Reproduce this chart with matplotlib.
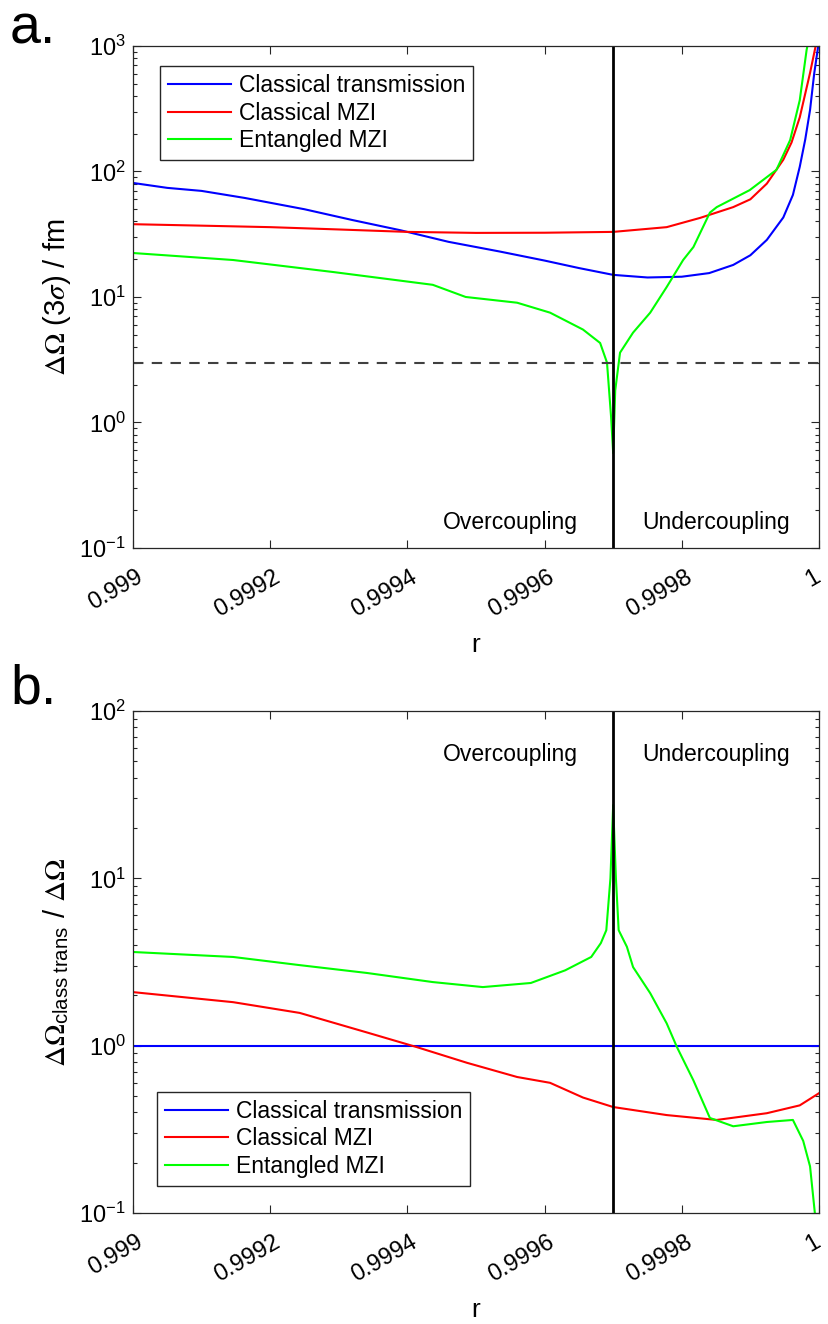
import math

import matplotlib
matplotlib.use("Agg")
import matplotlib.pyplot as plt
from matplotlib.ticker import FixedLocator, FuncFormatter, LogLocator, NullFormatter
from matplotlib.transforms import ScaledTranslation

plt.rcParams["font.family"] = ["Liberation Sans", "DejaVu Sans"]
plt.rcParams["mathtext.fontset"] = "stix"

# r position of the critical coupling line
R_CRIT = 0.9997
DASHED_LEVEL = 3.0

# --- panel a: Delta Omega (3 sigma) / fm ---
a_blue_r = [0.99900, 0.99905, 0.99910, 0.999163, 0.99925, 0.99932, 0.99939, 0.99946,
            0.999535, 0.99960, 0.99965, 0.99970, 0.99975, 0.99980, 0.99984, 0.999875,
            0.99990, 0.999924, 0.999948, 0.999962, 0.999972, 0.99998, 0.999987,
            0.999993, 1.0]
a_blue = [81, 74, 70, 61.5, 50, 41, 34, 27.5, 23, 19.5, 17, 15, 14.3, 14.5, 15.5, 18,
          21.5, 28.5, 43, 65, 109, 180, 309, 600, 1100]

a_red_r = [0.99900, 0.99910, 0.99920, 0.99930, 0.99940, 0.99950, 0.99960, 0.99970,
           0.999778, 0.999827, 0.999875, 0.99990, 0.999924, 0.999948, 0.99996,
           0.999972, 0.999987, 0.999996]
a_red = [38, 37, 36, 34.5, 33, 32.4, 32.5, 33, 36, 42.7, 52, 60, 80, 124, 170, 270,
         610, 1050]

a_green_r = [0.99900, 0.999146, 0.999292, 0.999437, 0.999485, 0.99956, 0.999608,
             0.999656, 0.999681, 0.999691, 0.999697, 0.99970, 0.999703, 0.99971,
             0.999729, 0.999754, 0.999778, 0.999802, 0.999817, 0.999841, 0.999851,
             0.999899, 0.999938, 0.999958, 0.999972, 0.999982, 0.999986]
a_green = [22.4, 19.7, 15.8, 12.5, 10.0, 9.0, 7.5, 5.5, 4.3, 3.0, 1.1, 0.57, 1.8, 3.6,
           5.2, 7.5, 12, 19.7, 25, 47, 52, 71, 103, 178, 370, 930, 1200]

# --- panel b: Delta Omega_class trans / Delta Omega ---
b_blue_r = [0.99900, 1.0]
b_blue = [1.0, 1.0]

b_red_r = [0.99900, 0.999146, 0.999243, 0.999341, 0.999414, 0.999487, 0.99956,
           0.999608, 0.999656, 0.99970, 0.999778, 0.999851, 0.999924, 0.999972, 1.0]
b_red = [2.09, 1.82, 1.57, 1.2, 0.98, 0.79, 0.65, 0.6, 0.49, 0.43, 0.385, 0.36,
         0.395, 0.44, 0.52]

b_green_r = [0.99900, 0.999146, 0.999243, 0.999341, 0.999437, 0.99951, 0.99958,
             0.99963, 0.999668, 0.999682, 0.999690, 0.999696, 0.99970, 0.999704,
             0.999708, 0.99972, 0.999729, 0.999754, 0.999778, 0.999793, 0.999817,
             0.999841, 0.999875, 0.999924, 0.999962, 0.999977, 0.999987, 0.999994]
b_green = [3.63, 3.39, 3.03, 2.72, 2.4, 2.24, 2.37, 2.82, 3.39, 4.1, 4.9, 10, 27.4,
           10, 4.9, 3.9, 2.95, 2.06, 1.36, 0.98, 0.62, 0.37, 0.33, 0.35, 0.36, 0.27,
           0.19, 0.1]

x_ticks = [0.999, 0.9992, 0.9994, 0.9996, 0.9998, 1.0]
x_tick_labels = ["0.999", "0.9992", "0.9994", "0.9996", "0.9998", "1"]
series_names = ["Classical transmission", "Classical MZI", "Entangled MZI"]
series_colors = ["#0000ff", "#ff0000", "#00ff00"]

SPINE = "#262626"
TICK_FS = 17
TEXT_FS = 16.5
LABEL_FS = 19
YLABEL_FS = 21


def log_label(v, pos):
    exp = int(round(math.log10(v)))
    return r"$\mathregular{10^{%d}}$" % exp


def style_axes(fig, ax, ylim):
    ax.set_yscale("log")
    ax.set_xlim(0.999, 1.0)
    ax.set_ylim(*ylim)
    ax.xaxis.set_major_locator(FixedLocator(x_ticks))
    ax.set_xticklabels(x_tick_labels, rotation=30, ha="right", va="top",
                       rotation_mode="anchor")
    ax.yaxis.set_major_locator(LogLocator(base=10, numticks=10))
    ax.yaxis.set_minor_locator(LogLocator(base=10, subs=range(2, 10), numticks=10))
    ax.yaxis.set_major_formatter(FuncFormatter(log_label))
    ax.yaxis.set_minor_formatter(NullFormatter())
    ax.tick_params(which="both", direction="in", top=True, right=True,
                   colors=SPINE, labelcolor="black", labelsize=TICK_FS)
    ax.tick_params(which="major", length=6, width=0.8)
    ax.tick_params(which="minor", length=3, width=0.8)
    ax.tick_params(axis="x", pad=13)
    ax.tick_params(axis="y", pad=5)
    labels = ax.get_xticklabels()
    for i, lab in enumerate(labels):
        # the last label sits at the figure edge, so keep it inside
        dx = -6 if i == len(labels) - 1 else 3
        shift = ScaledTranslation(dx / 100, 0, fig.dpi_scale_trans)
        lab.set_transform(lab.get_transform() + shift)
    for s in ax.spines.values():
        s.set_color(SPINE)
        s.set_linewidth(0.9)
    ax.set_xlabel("r", fontsize=LABEL_FS, va="top")
    ax.xaxis.set_label_coords(0.5, -0.17)


def add_legend(ax, loc, anchor):
    ax.legend(loc=loc, bbox_to_anchor=anchor, borderaxespad=0,
              fontsize=TEXT_FS, frameon=True, fancybox=False, framealpha=1,
              edgecolor=SPINE, handlelength=2.75, handletextpad=0.35,
              labelspacing=0.2, borderpad=0.35)


fig = plt.figure(figsize=(8.29, 13.24), dpi=100)
ax_a = fig.add_axes([0.1604, 0.5861, 0.8275, 0.3792])
ax_b = fig.add_axes([0.1604, 0.0838, 0.8275, 0.3792])

# panel a
ax_a.plot(a_blue_r, a_blue, color=series_colors[0], lw=1.5, label=series_names[0])
ax_a.plot(a_red_r, a_red, color=series_colors[1], lw=1.5, label=series_names[1])
ax_a.plot(a_green_r, a_green, color=series_colors[2], lw=1.5, label=series_names[2])
ax_a.axhline(DASHED_LEVEL, color="#404040", lw=1.5, ls=(0, (5, 4)))
ax_a.axvline(R_CRIT, color="black", lw=2)
style_axes(fig, ax_a, (0.1, 1000))
ax_a.set_ylabel(r"$\Delta\Omega$ (3$\sigma$) / fm", fontsize=YLABEL_FS)
ax_a.yaxis.set_label_coords(-0.088, 0.5)
ax_a.text(0.99955, 0.16, "Overcoupling", ha="center", va="center", fontsize=TEXT_FS)
ax_a.text(0.99985, 0.16, "Undercoupling", ha="center", va="center", fontsize=TEXT_FS)
add_legend(ax_a, "upper left", (0.039, 0.96))

# panel b
ax_b.plot(b_blue_r, b_blue, color=series_colors[0], lw=1.5, label=series_names[0])
ax_b.plot(b_red_r, b_red, color=series_colors[1], lw=1.5, label=series_names[1])
ax_b.plot(b_green_r, b_green, color=series_colors[2], lw=1.5, label=series_names[2])
ax_b.axvline(R_CRIT, color="black", lw=2)
style_axes(fig, ax_b, (0.1, 100))
ax_b.set_ylabel(r"$\Delta\Omega_{\mathregular{class\ trans}}$ / $\Delta\Omega$",
                fontsize=YLABEL_FS)
ax_b.yaxis.set_label_coords(-0.09, 0.5)
ax_b.text(0.99955, 55, "Overcoupling", ha="center", va="center", fontsize=TEXT_FS)
ax_b.text(0.99985, 55, "Undercoupling", ha="center", va="center", fontsize=TEXT_FS)
add_legend(ax_b, "lower left", (0.035, 0.054))

fig.text(0.012, 0.997, "a.", fontsize=40, va="top", ha="left")
fig.text(0.012, 0.499, "b.", fontsize=40, va="top", ha="left")

fig.savefig("out.png", dpi=100)
